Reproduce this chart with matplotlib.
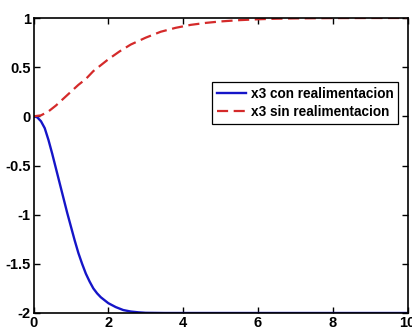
import matplotlib
matplotlib.use("Agg")
import matplotlib.pyplot as plt

# Data
t_con = [0.0, 0.1, 0.2, 0.3, 0.4, 0.5, 0.6, 0.7, 0.8, 0.9, 1.0, 1.1, 1.2, 1.3, 1.4,
         1.5, 1.6, 1.7, 1.8, 1.9, 2.0, 2.2, 2.4, 2.6, 2.8, 3.0, 3.5, 4.0, 6.0, 8.0, 10.0]
x3_con = [0.0, -0.01, -0.05, -0.12, -0.24, -0.38, -0.53, -0.68, -0.83, -0.98, -1.12,
          -1.26, -1.39, -1.50, -1.60, -1.68, -1.75, -1.80, -1.84, -1.87, -1.90, -1.94,
          -1.97, -1.985, -1.993, -1.998, -2.0, -2.0, -2.0, -2.0, -2.0]

t_sin = [0.0, 0.2, 0.4, 0.6, 0.8, 1.0, 1.2, 1.4, 1.6, 1.8, 2.0, 2.3, 2.6, 3.0, 3.4,
         3.8, 4.2, 4.6, 5.0, 5.5, 6.0, 6.5, 7.0, 8.0, 9.0, 10.0]
x3_sin = [0.0, 0.01, 0.05, 0.11, 0.18, 0.25, 0.32, 0.38, 0.46, 0.52, 0.58, 0.66, 0.73,
          0.80, 0.86, 0.90, 0.93, 0.95, 0.965, 0.978, 0.987, 0.993, 0.996, 0.999, 1.0, 1.0]

labels = ["x3 con realimentacion", "x3 sin realimentacion"]
xticks = [0, 2, 4, 6, 8, 10]
yticks = [-2, -1.5, -1, -0.5, 0, 0.5, 1]
yticklabels = ["-2", "-1.5", "-1", "-0.5", "0", "0.5", "1"]

plt.rcParams['font.family'] = ['Liberation Sans', 'DejaVu Sans']

fig = plt.figure(figsize=(4.12, 3.31), dpi=100)
ax = fig.add_axes([33.5 / 412, 1 - 313 / 331, (407.5 - 33.5) / 412, (313 - 18) / 331])

ax.plot(t_con, x3_con, color='#1515c8', lw=1.7, label=labels[0], zorder=2)
ax.plot(t_sin, x3_sin, color='#d42a2a', lw=1.6, ls=(0, (5, 2.5)), label=labels[1], zorder=2)

ax.set_xlim(0, 10)
ax.set_ylim(-2, 1)
ax.set_xticks(xticks)
ax.set_xticklabels([str(v) for v in xticks])
ax.set_yticks(yticks)
ax.set_yticklabels(yticklabels)
ax.tick_params(direction='in', length=4, width=1, top=True, right=True,
               labelsize=10.5, pad=2)
ax.tick_params(axis='x', pad=2)
for lab in ax.get_xticklabels() + ax.get_yticklabels():
    lab.set_fontweight('bold')
for s in ax.spines.values():
    s.set_linewidth(1.2)
    s.set_zorder(5)

leg = ax.legend(loc='upper left', bbox_to_anchor=((212.3 - 33.5) / 374, 1 - (82.3 - 18) / 295),
                fancybox=False, framealpha=1, edgecolor='black', borderaxespad=0,
                prop={'weight': 'bold', 'size': 9.8}, handlelength=2.1, handletextpad=0.37,
                borderpad=0.35, labelspacing=0.3)
leg.get_frame().set_linewidth(0.9)

fig.savefig('out.png', dpi=100)
